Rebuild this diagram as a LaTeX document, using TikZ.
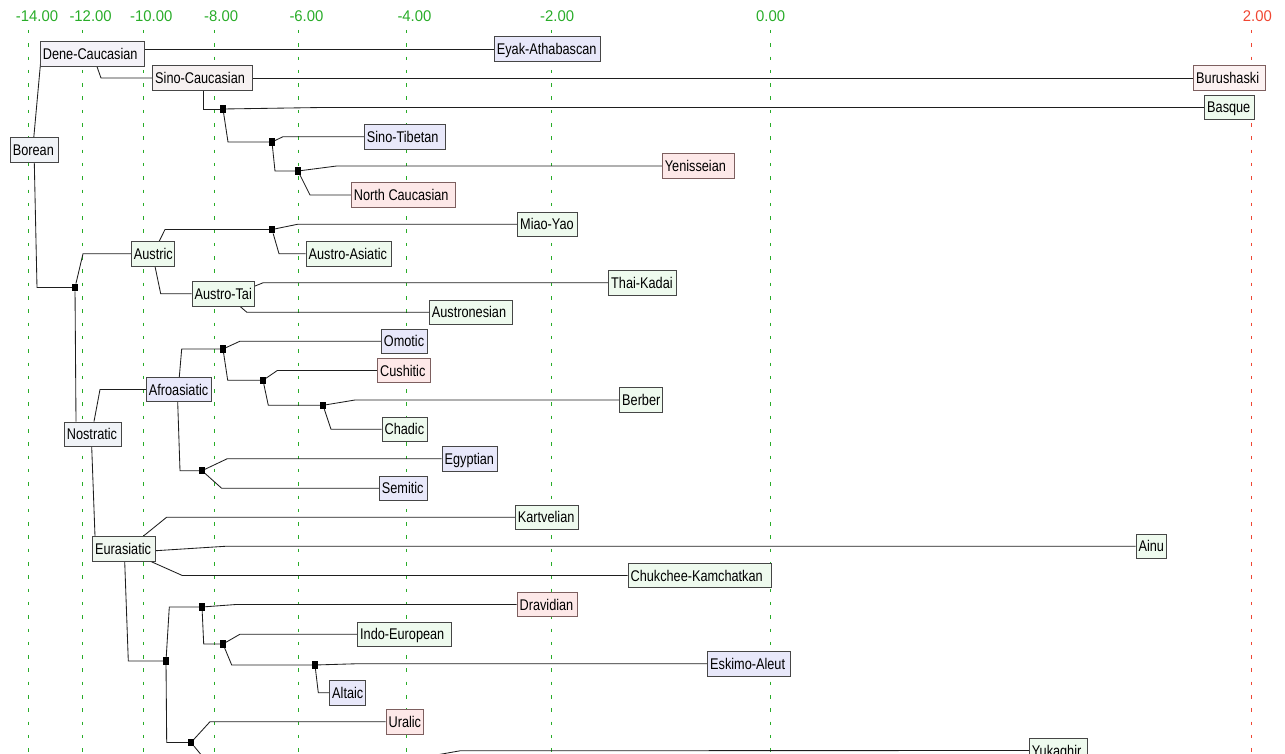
\documentclass[tikz,border=0pt]{standalone}
\usepackage{fontspec}
\usetikzlibrary{calc}
\newfontfamily\lbl[FakeStretch=0.82]{Liberation Sans}
\newfontfamily\axf[FakeStretch=0.96]{Liberation Sans}
\definecolor{axgreen}{RGB}{40,172,40}
\definecolor{axred}{RGB}{240,70,50}
\definecolor{fgrn}{RGB}{238,250,238}
\definecolor{flav}{RGB}{232,232,250}
\definecolor{fpink}{RGB}{253,232,232}
\definecolor{fpinkb}{RGB}{252,242,242}
\definecolor{fgray}{RGB}{240,243,247}
\definecolor{fdc}{RGB}{244,242,248}
\definecolor{fsc}{RGB}{246,241,241}
\definecolor{feura}{RGB}{240,247,240}
\definecolor{bord}{RGB}{70,70,70}
\definecolor{bordp}{RGB}{125,95,95}
\definecolor{cline}{RGB}{30,30,30}
\newcommand\bx[2]{\makebox[#1pt][l]{#2}}
\pgfdeclarelayer{bg}
\pgfsetlayers{bg,main}
\tikzset{
  box/.style={draw=bord, line width=0.8pt, anchor=west, inner xsep=2.5pt, inner ysep=0pt,
    minimum height=24.5pt, text height=11pt, text depth=0pt,
    font=\lbl\fontsize{15.5}{16}\selectfont},
  grn/.style={box, fill=fgrn},
  lav/.style={box, fill=flav},
  pnk/.style={box, fill=fpink, draw=bordp},
  jn/.style={draw=none, fill=black, minimum width=5.5pt, minimum height=7.5pt, inner sep=0pt},
  conn/.style={draw=cline, line width=0.85pt},
  gridg/.style={axgreen, line width=0.9pt, dash pattern=on 3.5pt off 9.8pt},
  gridr/.style={axred, line width=0.9pt, dash pattern=on 3.5pt off 9.8pt},
  axlab/.style={anchor=base west, inner sep=0pt, font=\axf\fontsize{15.5}{16}\selectfont},
}
\begin{document}
\begin{tikzpicture}[x=1pt,y=-1pt]
\path[use as bounding box] (0,0) rectangle (1285,754);
\clip (0,0) rectangle (1285,754);
% axis labels
\node[axlab, text=axgreen] (a14) at (15.7,21.5) {-14.00};
\node[axlab, text=axgreen] (a12) at (69.3,21.5) {-12.00};
\node[axlab, text=axgreen] (a10) at (130,21.5) {-10.00};
\node[axlab, text=axgreen] (a8) at (204,21.5) {-8.00};
\node[axlab, text=axgreen] (a6) at (289.3,21.5) {-6.00};
\node[axlab, text=axgreen] (a4) at (397.3,21.5) {-4.00};
\node[axlab, text=axgreen] (a2) at (540,21.5) {-2.00};
\node[axlab, text=axgreen] (a0) at (756,21.5) {0.00};
\node[axlab, text=axred] (ap2) at (1242.7,21.5) {2.00};
% boxes
\node[box, fill=fgray] (borean) at (10,150) {\bx{43}{Borean}};
\node[box, fill=fdc] (dc) at (40,54) {\bx{99}{Dene-Caucasian}};
\node[lav] (eyak) at (494,49) {\bx{101}{Eyak-Athabascan}};
\node[box, fill=fsc] (sc) at (152.3,78) {\bx{95}{Sino-Caucasian}};
\node[box, fill=fpinkb, draw=bordp] (buru) at (1193.3,78) {\bx{66.7}{Burushaski}};
\node[grn] (basque) at (1204.3,107.5) {\bx{45}{Basque}};
\node[lav] (st) at (364,136.7) {\bx{76}{Sino-Tibetan}};
\node[pnk] (yen) at (662,166) {\bx{67}{Yenisseian}};
\node[pnk] (nc) at (351,195) {\bx{99}{North Caucasian}};
\node[grn] (austric) at (131,253.7) {\bx{38.3}{Austric}};
\node[grn] (miao) at (517.3,224.2) {\bx{54.4}{Miao-Yao}};
\node[grn] (aa) at (305.7,253.7) {\bx{80}{Austro-Asiatic}};
\node[grn] (at) at (191.7,293.7) {\bx{57.6}{Austro-Tai}};
\node[grn] (tk) at (608.3,282.8) {\bx{62.4}{Thai-Kadai}};
\node[grn] (an) at (429,312.2) {\bx{77.7}{Austronesian}};
\node[box, fill=fgray] (nostratic) at (64,434.2) {\bx{51.7}{Nostratic}};
\node[lav] (afro) at (146,389.5) {\bx{60}{Afroasiatic}};
\node[lav] (omotic) at (381,341.2) {\bx{41}{Omotic}};
\node[pnk] (cush) at (377.3,370.5) {\bx{47.4}{Cushitic}};
\node[grn] (berber) at (619.3,400) {\bx{38}{Berber}};
\node[grn] (chadic) at (381.7,429.2) {\bx{40.3}{Chadic}};
\node[lav] (egypt) at (441.7,458.7) {\bx{50.6}{Egyptian}};
\node[lav] (semitic) at (379,488.3) {\bx{43.3}{Semitic}};
\node[box, fill=feura] (eura) at (92.3,548.8) {\bx{57.7}{Eurasiatic}};
\node[grn] (kart) at (515,517.2) {\bx{58.3}{Kartvelian}};
\node[grn] (ainu) at (1135.7,546.2) {\bx{25.3}{Ainu}};
\node[grn] (chuk) at (627.7,575.5) {\bx{138}{Chukchee-Kamchatkan}};
\node[pnk] (drav) at (516.7,604.5) {\bx{55}{Dravidian}};
\node[grn] (ie) at (357.3,634.2) {\bx{88.7}{Indo-European}};
\node[lav] (ea) at (707.3,663.7) {\bx{77.7}{Eskimo-Aleut}};
\node[lav] (altaic) at (329.3,692.8) {\bx{30.7}{Altaic}};
\node[pnk] (uralic) at (385.7,721.7) {\bx{32}{Uralic}};
\node[grn] (yuka) at (1029,750.5) {\bx{52.7}{Yukaghir}};
% junctions
\node[jn] (jSC) at (223,109) {};
\node[jn] (jST) at (272,142) {};
\node[jn] (jYN) at (298,171) {};
\node[jn] (jBN) at (75,287.5) {};
\node[jn] (jA) at (272,229.5) {};
\node[jn] (jO) at (223,349) {};
\node[jn] (jC) at (263,380.3) {};
\node[jn] (jB) at (323,405.3) {};
\node[jn] (jE) at (202,470.7) {};
\node[jn] (jEU) at (166,661) {};
\node[jn] (jD) at (202,607) {};
\node[jn] (jIE) at (223,644) {};
\node[jn] (jEA) at (315,665) {};
\node[jn] (jU) at (191,742.5) {};
\coordinate (offA) at (212,768);
\coordinate (offB) at (425,757);
\begin{pgfonlayer}{bg}
\clip (0,0) rectangle (1285,754);
% grid
\foreach \gx in {28.3,82.7,143.3,214.3,298.7,406.7,551.3,770}
  \draw[gridg] (\gx,30) -- (\gx,754);
\draw[gridr] (1251.7,30) -- (1251.7,754);
% connectors
\draw[conn] ($(borean.north west)+(23.8,0)$) -- ($(dc.south west)+(0.5,-3)$);
\draw[conn] ($(borean.south west)+(24.3,0)$) -- (37,287.5) -- (jBN);
\draw[conn] (dc.east |- eyak.west) -- (eyak.west);
\draw[conn] ($(dc.south west)+(57,0)$) -- (101,78) -- (sc.west);
\draw[conn] (sc.east) -- (buru.west);
\draw[conn] ($(sc.south west)+(50.7,0)$) -- (203,109) -- (jSC);
\draw[conn] (jSC) -- (322,107.5) -- (basque.west);
\draw[conn] (jSC) -- (228,142) -- (jST);
\draw[conn] (jST) -- (283,136.7) -- (st.west);
\draw[conn] (jST) -- (275,171) -- (jYN);
\draw[conn] (jYN) -- (336.7,166) -- (yen.west);
\draw[conn] (jYN) -- (310,195) -- (nc.west);
\draw[conn] (jBN) -- (83,253.7) -- (austric.west);
\draw[conn] (jBN) -- ($(nostratic.north west)+(12,0)$);
\draw[conn] ($(austric.north west)+(28.3,0)$) -- (165,229.5) -- (jA);
\draw[conn] (jA) -- (298,224.2) -- (miao.west);
\draw[conn] (jA) -- (279,253.7) -- (aa.west);
\draw[conn] ($(austric.south west)+(24,0)$) -- (160.7,293.7) -- (at.west);
\draw[conn] ($(at.east)+(0,-7.7)$) -- (263,282.8) -- (tk.west);
\draw[conn] ($(at.south west)+(48.3,0)$) -- (246.7,312.2) -- (an.west);
\draw[conn] ($(nostratic.north west)+(30,0)$) -- (100,389.5) -- (afro.west);
\draw[conn] ($(afro.north west)+(33.3,0)$) -- (181.7,349) -- (jO);
\draw[conn] (jO) -- (240,341.2) -- (omotic.west);
\draw[conn] (jO) -- (227.7,380.3) -- (jC);
\draw[conn] (jC) -- (277.3,370.5) -- (cush.west);
\draw[conn] (jC) -- (268.3,405.3) -- (jB);
\draw[conn] (jB) -- (355,400) -- (berber.west);
\draw[conn] (jB) -- (331,429.2) -- (chadic.west);
\draw[conn] ($(afro.south west)+(31.7,0)$) -- (180,470.7) -- (jE);
\draw[conn] (jE) -- (227.3,458.7) -- (egypt.west);
\draw[conn] (jE) -- (221.7,488.3) -- (semitic.west);
\draw[conn] ($(nostratic.south west)+(27.7,0)$) -- ($(eura.north west)+(2.7,0)$);
\draw[conn] ($(eura.north west)+(51,0)$) -- (166.7,517.2) -- (kart.west);
\draw[conn] ($(eura.east)+(0,1.9)$) -- (226.7,546.2) -- (ainu.west);
\draw[conn] ($(eura.south east)+(-5,0)$) -- (182.3,575.5) -- (chuk.west);
\draw[conn] ($(eura.south west)+(32.4,0)$) -- (128.3,661) -- (jEU);
\draw[conn] (jEU) -- (169.3,607) -- (jD);
\draw[conn] (jD) -- (236,604.5) -- (drav.west);
\draw[conn] (jD) -- (203.7,644) -- (jIE);
\draw[conn] (jIE) -- (240,634.2) -- (ie.west);
\draw[conn] (jIE) -- (231.7,665) -- (jEA);
\draw[conn] (jEA) -- (358.3,663.7) -- (ea.west);
\draw[conn] (jEA) -- (318.3,692.8) -- (altaic.west);
\draw[conn] (jEU) -- (166.7,742.5) -- (jU);
\draw[conn] (jU) -- (210,721.7) -- (uralic.west);
\draw[conn] (jU) -- (offA);
\draw[conn] (offB) -- (460,750.8) -- (yuka.west);
\end{pgfonlayer}
\end{tikzpicture}
\end{document}
